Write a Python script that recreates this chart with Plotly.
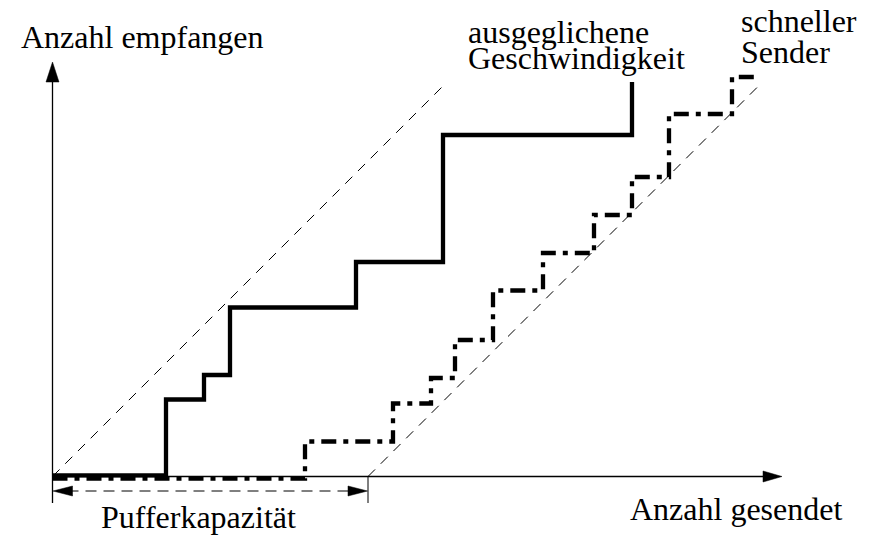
import plotly.graph_objects as go

# ---- data (units: 1 unit = one step of the chart's grid, origin at the axes corner) ----
# "ausgeglichene Geschwindigkeit" (solid step curve), hv-steps
balanced_sent = [0, 11.35, 15.15, 17.75, 30.35, 39.05, 57.95]
balanced_recv = [0.12, 7.7, 10.15, 16.9, 21.45, 34.15, 39.45]

# "schneller Sender" (dash-dot step curve), hv-steps
fast_sent = [0, 25.25, 34.05, 37.85, 40.25, 44.05, 49.05, 54.15, 57.95, 61.65, 67.95, 70.55]
fast_recv = [-0.22, 3.5, 7.3, 9.85, 13.65, 18.6, 22.35, 26.15, 29.95, 36.25, 39.95, 39.95]

# dashed reference lines (slope 1)
buffer_capacity = 31.55
ref_top = 38.9

# axes extents
x_axis_end = 72.95
y_axis_end = 41.45
tick_bottom = -2.65
buffer_arrow_y = -1.45

labels = {
    "y": "Anzahl empfangen",
    "x": "Anzahl gesendet",
    "buffer": "Pufferkapazität",
    "bal1": "ausgeglichene",
    "bal2": "Geschwindigkeit",
    "fast1": "schneller",
    "fast2": "Sender",
}

W, H = 874, 536
ox, oy, scale = 52.5, 476.5, 10.0
xr = [(0 - ox) / scale, (W - ox) / scale]
yr = [(oy - H) / scale, (oy - 0) / scale]

fig = go.Figure()

def line(xs, ys, width=1.0, dash="solid", shape="linear"):
    fig.add_trace(go.Scatter(x=xs, y=ys, mode="lines",
                             line=dict(color="black", width=width, dash=dash, shape=shape),
                             hoverinfo="skip", showlegend=False))

def tri(xs, ys):
    fig.add_trace(go.Scatter(x=xs + [xs[0]], y=ys + [ys[0]], mode="lines", fill="toself",
                             fillcolor="black", line=dict(color="black", width=0.5),
                             hoverinfo="skip", showlegend=False))

# dashed diagonals
line([0, ref_top], [0, ref_top], width=1.0, dash="10px,8px")
line([buffer_capacity, buffer_capacity + ref_top], [0, ref_top], width=1.0, dash="10px,8px")

# axes
line([0, 0], [tick_bottom, y_axis_end - 1.9], width=1.3)
tri([-0.65, 0.65, 0], [y_axis_end - 2.0, y_axis_end - 2.0, y_axis_end])
line([0, x_axis_end - 1.8], [0, 0], width=1.3)
tri([x_axis_end - 1.9, x_axis_end - 1.9, x_axis_end], [0.55, -0.55, 0])

# buffer capacity bracket
line([buffer_capacity, buffer_capacity], [tick_bottom, 0], width=1.0)
line([1.5, buffer_capacity - 1.5], [buffer_arrow_y, buffer_arrow_y], width=1.0, dash="11px,7px")
tri([0.05, 2.0, 2.0], [buffer_arrow_y, buffer_arrow_y + 0.5, buffer_arrow_y - 0.5])
tri([buffer_capacity - 0.05, buffer_capacity - 2.0, buffer_capacity - 2.0],
    [buffer_arrow_y, buffer_arrow_y + 0.5, buffer_arrow_y - 0.5])

# step curves
line(fast_sent, fast_recv, width=4.3, dash="15px,7px,5px,7px", shape="hv")
line(balanced_sent, balanced_recv, width=4.3, shape="hv")

font = dict(family="Liberation Serif, Times New Roman, serif", size=32, color="black")

def text(t, px, baseline):
    fig.add_annotation(x=px / W, y=1 - (baseline - 10.8) / H, xref="paper", yref="paper",
                       text=t, showarrow=False, xanchor="left", yanchor="middle", font=font)

text(labels["y"], 19, 48)
text(labels["bal1"], 466, 43.3)
text(labels["bal2"], 466, 69.3)
text(labels["fast1"], 739, 31.7)
text(labels["fast2"], 739, 63.3)
text(labels["buffer"], 99, 528)
text(labels["x"], 628, 520)

fig.update_layout(
    width=W, height=H, autosize=False,
    margin=dict(l=0, r=0, t=0, b=0, pad=0),
    paper_bgcolor="white", plot_bgcolor="white",
    xaxis=dict(range=xr, visible=False, fixedrange=True),
    yaxis=dict(range=yr, visible=False, fixedrange=True),
    showlegend=False,
)

fig.write_html("out.html", config={"displayModeBar": False},
               post_script="document.body.style.margin='0';document.body.style.overflow='hidden';")
